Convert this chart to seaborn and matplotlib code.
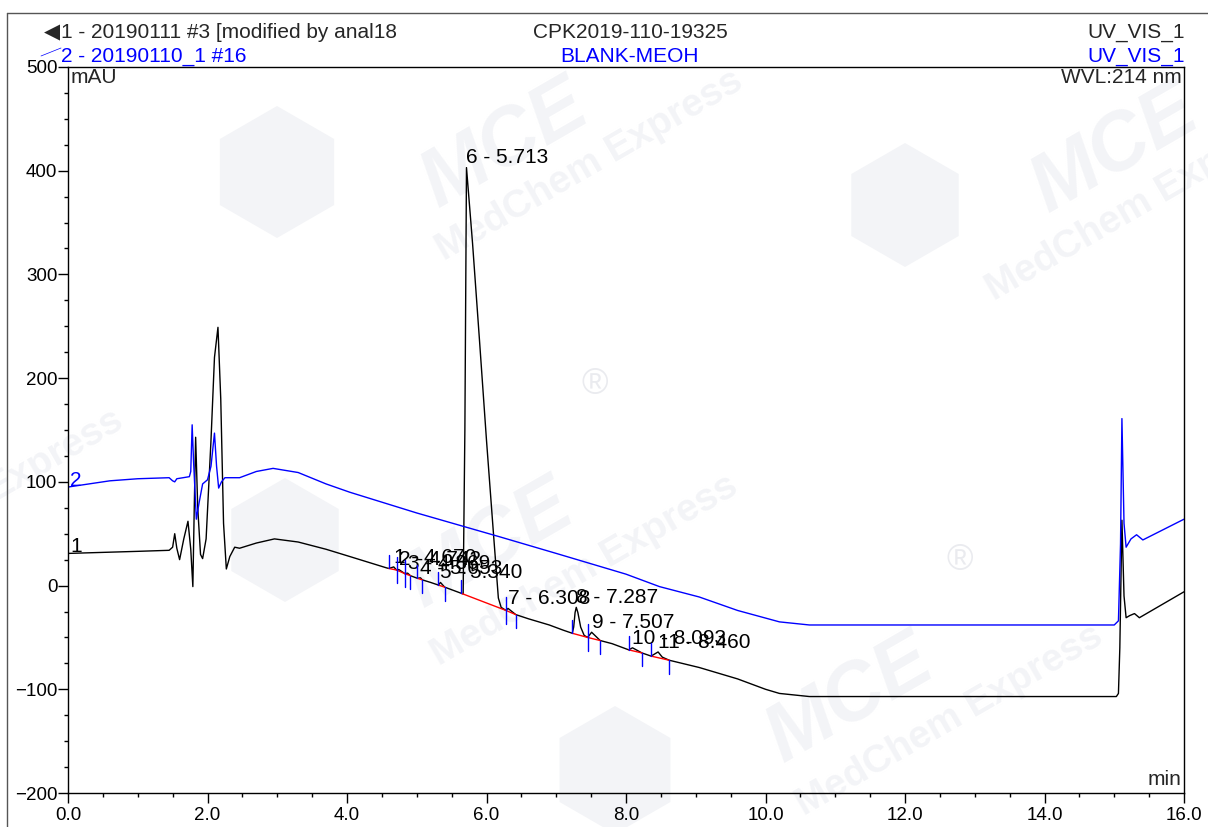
import numpy as np
import pandas as pd
import matplotlib
matplotlib.use("Agg")
import matplotlib.pyplot as plt
from matplotlib.lines import Line2D
from matplotlib.patches import RegularPolygon
from matplotlib.transforms import IdentityTransform
from matplotlib.ticker import MultipleLocator, FormatStrFormatter
import seaborn as sns

sns.set_theme(style="ticks")
plt.rcParams['font.family'] = ['Liberation Sans', 'DejaVu Sans']

# trace 1 - sample (black)
black_t = [0.00, 0.50, 1.00, 1.45, 1.50, 1.53, 1.56, 1.60, 1.66, 1.72, 1.76, 1.79, 1.81, 1.83,
           1.86, 1.90, 1.93, 1.98, 2.05, 2.10, 2.15, 2.19, 2.23, 2.27, 2.32, 2.39, 2.46, 2.70,
           2.96, 3.30, 3.70, 4.04, 4.57, 4.60, 4.67, 4.71, 4.742, 4.83, 4.869, 4.91, 5.01,
           5.053, 5.08, 5.20, 5.31, 5.34, 5.40, 5.50, 5.64, 5.665, 5.69, 5.713, 5.80, 5.90,
           6.00, 6.10, 6.17, 6.21, 6.28, 6.308, 6.42, 6.60, 6.90, 7.10, 7.23, 7.25, 7.27,
           7.287, 7.31, 7.35, 7.40, 7.45, 7.507, 7.63, 7.80, 8.04, 8.093, 8.23, 8.36, 8.46,
           8.52, 8.62, 9.05, 9.60, 10.00, 10.20, 10.63, 15.03, 15.06, 15.08, 15.11, 15.14,
           15.17, 15.22, 15.29, 15.36, 16.00]
black_v = [31, 32, 33, 34, 37, 50, 36, 25, 45, 62, 35, -1, 75, 143,
           75, 30, 26, 45, 140, 220, 249, 180, 60, 16, 28, 37, 36, 41,
           45, 42, 35, 28, 17, 16.5, 18, 15, 15.5, 11.5, 12, 9.5, 7,
           7.5, 5.5, 3, 0.5, 3, -1.5, -4, -7.5, -8, 150, 403, 330, 236,
           140, 50, -12, -21, -24, -22, -28, -32, -38, -43, -46, -40, -26,
           -21, -26, -40, -48, -50, -45, -53, -56, -62, -60, -65, -68, -64,
           -69, -72, -79, -90, -100, -104, -107, -107, -104, -60, 63, -10,
           -31, -29, -27, -31, -6]

# trace 2 - blank (blue)
blue_t = [0.00, 0.30, 0.60, 1.00, 1.45, 1.50, 1.53, 1.56, 1.74, 1.76, 1.78, 1.80, 1.84, 1.88,
          1.93, 2.00, 2.05, 2.10, 2.13, 2.16, 2.20, 2.25, 2.46, 2.70, 2.94, 3.30, 3.70, 4.04,
          5.00, 6.19, 7.00, 8.00, 8.48, 9.05, 9.60, 10.20, 10.63, 15.00, 15.06, 15.09, 15.11,
          15.14, 15.17, 15.24, 15.32, 15.41, 16.00]
blue_v = [95, 98, 101, 103, 104, 101, 100, 103, 105, 110, 155, 120, 64, 80,
          98, 102, 115, 147, 115, 94, 100, 104, 104, 110, 113, 109, 98, 90,
          70, 47, 31, 11, -1, -11, -24, -35, -38, -38, -34, 40, 161,
          60, 37, 45, 49, 44, 64]

# integrated peaks of trace 1
peak_no = [1, 2, 3, 4, 5, 6, 7, 8, 9, 10, 11]
peak_rt = [4.670, 4.742, 4.869, 5.053, 5.340, 5.713, 6.308, 7.287, 7.507, 8.093, 8.460]
peak_start = [4.60, 4.71, 4.83, 5.01, 5.31, 5.64, 6.28, 7.23, 7.45, 8.04, 8.36]
peak_end = [4.71, 4.83, 4.91, 5.08, 5.40, 6.28, 6.42, 7.45, 7.63, 8.23, 8.62]

df = pd.concat([
    pd.DataFrame({"min": black_t, "mAU": black_v, "trace": "1"}),
    pd.DataFrame({"min": blue_t, "mAU": blue_v, "trace": "2"}),
])

FS = 15
W, H = 1208, 827
fig = plt.figure(figsize=(W / 100, H / 100), dpi=100)
ax = fig.add_axes([68 / W, 1 - 793 / H, (1184 - 68) / W, (793 - 67) / H])
ax.set_facecolor("none")

# faint watermark
wm = "#f3f4f7"
for cx, cy, r in [(277, 172, 66), (905, 205, 62), (285, 540, 62), (615, 770, 64)]:
    fig.add_artist(RegularPolygon((cx, H - cy), numVertices=6, radius=r, orientation=0,
                                  transform=IdentityTransform(), facecolor=wm,
                                  edgecolor="none", zorder=-2))
for (mx, my), (ex, ey) in [((505, 145), (590, 165)), ((1115, 150), (1140, 205)),
                           ((490, 545), (585, 570)), ((850, 700), (950, 720))]:
    fig.text(mx / W, 1 - my / H, "MCE", fontsize=58, fontweight="bold", fontstyle="italic",
             color=wm, rotation=30, ha="center", va="center", zorder=-1)
    fig.text(ex / W, 1 - ey / H, "MedChem Express", fontsize=28, fontweight="bold",
             color=wm, rotation=30, ha="center", va="center", zorder=-1)
fig.text(55 / W, 1 - 455 / H, "Express", fontsize=28, fontweight="bold", color=wm,
         rotation=30, ha="center", va="center", zorder=-1)
for rx, ry in [(595, 385), (960, 560)]:
    fig.text(rx / W, 1 - ry / H, "®", fontsize=26, color="#eaebef", ha="center",
             va="center", zorder=-1)

sns.lineplot(data=df, x="min", y="mAU", hue="trace", palette={"1": "#000000", "2": "#0000ff"},
             estimator=None, sort=False, linewidth=1.0, legend=False, ax=ax)

# baselines and delimiters of the integrated peaks
for s, e in zip(peak_start, peak_end):
    ys = np.interp(s, black_t, black_v)
    ye = np.interp(e, black_t, black_v)
    ax.plot([s, e], [ys, ye], color="#ff0000", lw=1.0, zorder=3)
    ax.plot([s, s], [ys, ys + 13], color="#0000ff", lw=1.0, zorder=4)
    ax.plot([e, e], [ye, ye - 13], color="#0000ff", lw=1.0, zorder=4)

for n, rt in zip(peak_no, peak_rt):
    y = np.interp(rt, black_t, black_v)
    ax.text(rt, y + 4, f"{n} - {rt:.3f}", fontsize=FS, ha="left", va="baseline", color="black")

ax.text(0.03, 96, "2", fontsize=FS, color="#0000ff", ha="left", va="baseline")
ax.text(0.03, 32, "1", fontsize=FS, color="black", ha="left", va="baseline")

ax.set_xlim(0, 16)
ax.set_ylim(-200, 500)
ax.xaxis.set_major_locator(MultipleLocator(2))
ax.xaxis.set_minor_locator(MultipleLocator(0.5))
ax.xaxis.set_major_formatter(FormatStrFormatter("%.1f"))
ax.yaxis.set_major_locator(MultipleLocator(100))
ax.yaxis.set_minor_locator(MultipleLocator(25))
ax.tick_params(axis="both", which="major", direction="out", length=7.2, width=1,
               labelsize=13.5, color="black", labelcolor="black")
ax.tick_params(axis="x", which="major", pad=3)
ax.tick_params(axis="y", which="major", pad=0.5)
ax.tick_params(axis="both", which="minor", direction="out", length=3, width=1, color="black")
ax.set_xlabel("")
ax.set_ylabel("")
for sp in ax.spines.values():
    sp.set_color("black")
    sp.set_linewidth(1.0)

ax.text(0.002, 0.998, "mAU", transform=ax.transAxes, fontsize=FS, ha="left", va="top")
ax.text(0.998, 0.998, "WVL:214 nm", transform=ax.transAxes, fontsize=FS, ha="right", va="top")
ax.text(0.998, 0.006, "min", transform=ax.transAxes, fontsize=FS, ha="right", va="bottom")

# header block
y1, y2 = 1 - 32 / H, 1 - 56 / H
fig.text(60 / W, y1, "◀", fontsize=15, family="DejaVu Sans", ha="right", va="center")
fig.text(61 / W, y1, "1 - 20190111 #3 [modified by anal18", fontsize=FS, ha="left", va="center")
fig.text(61 / W, y2, "2 - 20190110_1 #16", fontsize=FS, color="#0000ff", ha="left", va="center")
fig.text(630 / W, y1, "CPK2019-110-19325", fontsize=FS, ha="center", va="center")
fig.text(629 / W, y2, "BLANK-MEOH", fontsize=FS, color="#0000ff", ha="center", va="center")
fig.text(1185 / W, y1, "UV_VIS_1", fontsize=FS, ha="right", va="center")
fig.text(1185 / W, y2, "UV_VIS_1", fontsize=FS, color="#0000ff", ha="right", va="center")
fig.add_artist(Line2D([41 / W, 61 / W], [1 - 56 / H, 1 - 48 / H], color="#0000ff", lw=0.5))

# outer frame
fig.add_artist(Line2D([7.5 / W, 7.5 / W], [0, 1 - 13 / H], color="#555555", lw=1.0))
fig.add_artist(Line2D([7.5 / W, 1], [1 - 13 / H, 1 - 13 / H], color="#555555", lw=1.0))

fig.savefig("out.png", dpi=100)
